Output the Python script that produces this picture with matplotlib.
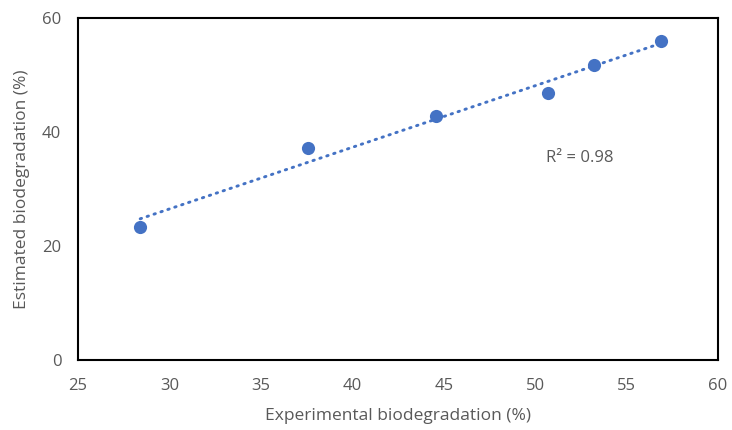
import numpy as np
import matplotlib

matplotlib.use("Agg")
import matplotlib.pyplot as plt

plt.rcParams["font.family"] = ["Open Sans", "DejaVu Sans"]

experimental = [28.4, 37.6, 44.6, 50.7, 53.2, 56.9]
estimated = [23.3, 37.2, 42.8, 46.8, 51.7, 56.0]
r2_label = "R² = 0.98"

text_color = "#595959"
point_color = "#4472C4"

fig = plt.figure(figsize=(7.32, 4.30), dpi=100)
ax = fig.add_axes([78 / 732, 1 - 360 / 430, 640 / 732, 342 / 430])

ax.scatter(experimental, estimated, s=90, color=point_color, zorder=3, linewidths=0)

slope, intercept = np.polyfit(experimental, estimated, 1)
xs = np.array([min(experimental), max(experimental)])
ax.plot(xs, slope * xs + intercept, color=point_color, linestyle=(0, (0.5, 2.0)),
        linewidth=2.1, dash_capstyle="round", zorder=2)

ax.text(50.6, 35.4, r2_label, color=text_color, fontsize=12, va="center")

ax.set_xlim(25, 60)
ax.set_ylim(0, 60)
ax.set_xticks(range(25, 61, 5))
ax.set_yticks([0, 20, 40, 60])
ax.tick_params(length=0, labelsize=12, colors=text_color)
ax.tick_params(axis="x", pad=13)
ax.tick_params(axis="y", pad=12)
for spine in ax.spines.values():
    spine.set_linewidth(1.5)
    spine.set_color("black")

ax.set_xlabel("Experimental biodegradation (%)", fontsize=12.5, color=text_color, labelpad=10)
ax.set_ylabel("Estimated biodegradation (%)", fontsize=12.5, color=text_color, labelpad=9)

fig.savefig("out.png", dpi=100)
